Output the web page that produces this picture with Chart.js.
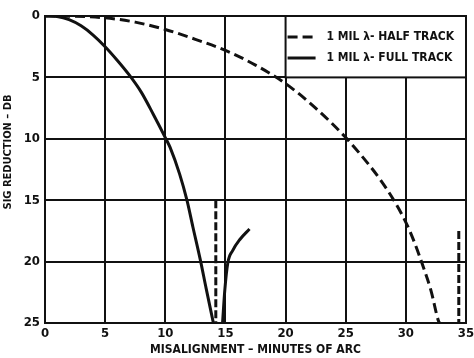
<!DOCTYPE html>
<html>
<head>
<meta charset="utf-8">
<script src="https://cdn.jsdelivr.net/npm/chart.js@4.4.1/dist/chart.umd.min.js"></script>
<style>
  html, body { margin: 0; padding: 0; background: #fff; }
  #wrap { width: 474px; height: 358px; position: relative; }
</style>
</head>
<body>
<div id="wrap"><canvas id="sigChart"></canvas></div>
<script>
/* signal reduction vs misalignment */

const halfLabel = "1 MIL \u03bb- HALF TRACK";
const fullLabel = "1 MIL \u03bb- FULL TRACK";
const xTitle = "MISALIGNMENT \u2013 MINUTES OF ARC";
const yTitle = "SIG REDUCTION \u2013 DB";

const xTicks = [0, 5, 10, 15, 20, 25, 30, 35];
const yTicks = [0, 5, 10, 15, 20, 25];

const halfX = [0, 2.5, 5, 7.5, 10, 12.5, 15, 17.5, 20, 22.5, 25, 27, 28, 29, 30, 30.7, 31.4, 32.1, 32.7, 32.8];
const halfY = [0, 0.02, 0.15, 0.5, 1.1, 1.9, 2.8, 4.0, 5.5, 7.5, 9.9, 12.2, 13.5, 15.0, 16.8, 18.4, 20.3, 22.4, 24.8, 25];

// null splits the full-track curve at the null (clipped at 25 dB)
const fullX = [0, 1, 2, 3, 4, 5, 6, 7, 8, 9, 10, 10.4, 11.2, 11.8, 12.3, 12.9, 13.4, 14.0, 14.4, 14.76, 14.95, 15.2, 15.6, 16.2, 17.0];
const fullY = [0, 0.05, 0.3, 0.8, 1.55, 2.5, 3.6, 4.8, 6.2, 8.0, 9.9, 10.7, 12.9, 15.0, 17.2, 19.8, 22.2, 25, null, 25, 22.3, 20.1, 19.1, 18.2, 17.35];

// short dashed stubs near the nulls
const stub1X = [14.2, 14.2];
const stub1Y = [15, 25];
const stub2X = [34.4, 34.4];
const stub2Y = [17.5, 25];

const FONT = "'DejaVu Sans Condensed', 'DejaVu Sans', sans-serif";
const INK = "#111";

function toPoints(xs, ys) {
  return xs.map((x, i) => ({ x, y: ys[i] }));
}

const boxLegend = {
  id: "boxLegend",
  afterDraw(chart) {
    const { ctx, scales } = chart;
    const left = scales.x.getPixelForValue(20);
    const right = scales.x.getPixelForValue(35);
    const top = scales.y.getPixelForValue(0);
    const bottom = scales.y.getPixelForValue(5);
    ctx.save();
    ctx.fillStyle = "#fff";
    ctx.fillRect(left, top, right - left, bottom - top);
    ctx.strokeStyle = INK;
    ctx.lineWidth = 2;
    ctx.strokeRect(left, top, right - left, bottom - top);
    const entries = chart.data.datasets.filter((d) => d.showInLegend);
    entries.forEach((d, i) => {
      const y = top + 21 + i * 21;
      ctx.beginPath();
      ctx.setLineDash(d.borderDash || []);
      ctx.lineWidth = 3;
      ctx.moveTo(left + 2, y);
      ctx.lineTo(left + 30, y);
      ctx.stroke();
      ctx.setLineDash([]);
      ctx.fillStyle = INK;
      ctx.font = "bold 12px " + FONT;
      ctx.textBaseline = "middle";
      ctx.fillText(d.label, left + 41, y);
    });

    // y axis title, placed a little above centre like the original
    ctx.translate(8, 152);
    ctx.rotate(-Math.PI / 2);
    ctx.font = "bold 11px " + FONT;
    ctx.textAlign = "center";
    ctx.textBaseline = "middle";
    ctx.fillText(yTitle, 0, 0);
    ctx.restore();
  },
};

new Chart(document.getElementById("sigChart"), {
  type: "line",
  data: {
    datasets: [
      { label: halfLabel, showInLegend: true, data: toPoints(halfX, halfY), borderColor: INK, borderWidth: 3, borderDash: [10, 5], pointRadius: 0, cubicInterpolationMode: "monotone", fill: false },
      { label: fullLabel, showInLegend: true, data: toPoints(fullX, fullY), borderColor: INK, borderWidth: 3, pointRadius: 0, cubicInterpolationMode: "monotone", spanGaps: false, fill: false },
      { label: "stub1", data: toPoints(stub1X, stub1Y), borderColor: INK, borderWidth: 3, borderDash: [8, 3], pointRadius: 0, fill: false },
      { label: "stub2", data: toPoints(stub2X, stub2Y), borderColor: INK, borderWidth: 3, borderDash: [8, 3], pointRadius: 0, fill: false },
    ],
  },
  options: {
    responsive: true,
    maintainAspectRatio: false,
    animation: false,
    layout: { padding: { top: 16, right: 8, left: 0, bottom: 0 } },
    plugins: { legend: { display: false }, tooltip: { enabled: false } },
    scales: {
      x: {
        type: "linear",
        min: 0,
        max: 35,
        afterBuildTicks: (scale) => { scale.ticks = xTicks.map((v) => ({ value: v })); },
        afterFit: (scale) => { scale.height = 35; scale.paddingRight = 0; scale.paddingLeft = 0; },
        grid: { color: INK, lineWidth: 2, drawTicks: false },
        border: { color: INK, width: 2 },
        ticks: { color: INK, padding: 3, font: { family: FONT, size: 13, weight: "bold" } },
        title: { display: true, text: xTitle, color: INK, padding: { top: 0, bottom: 1 }, font: { family: FONT, size: 12, weight: "bold" } },
      },
      y: {
        type: "linear",
        min: 0,
        max: 25,
        reverse: true,
        afterBuildTicks: (scale) => { scale.ticks = yTicks.map((v) => ({ value: v })); },
        afterFit: (scale) => { scale.width = 45; },
        grid: { color: INK, lineWidth: 2, drawTicks: false },
        border: { color: INK, width: 2 },
        ticks: { color: INK, padding: 5, font: { family: FONT, size: 13, weight: "bold" } },
        title: { display: false },
      },
    },
  },
  plugins: [boxLegend],
});
</script>
</body>
</html>
